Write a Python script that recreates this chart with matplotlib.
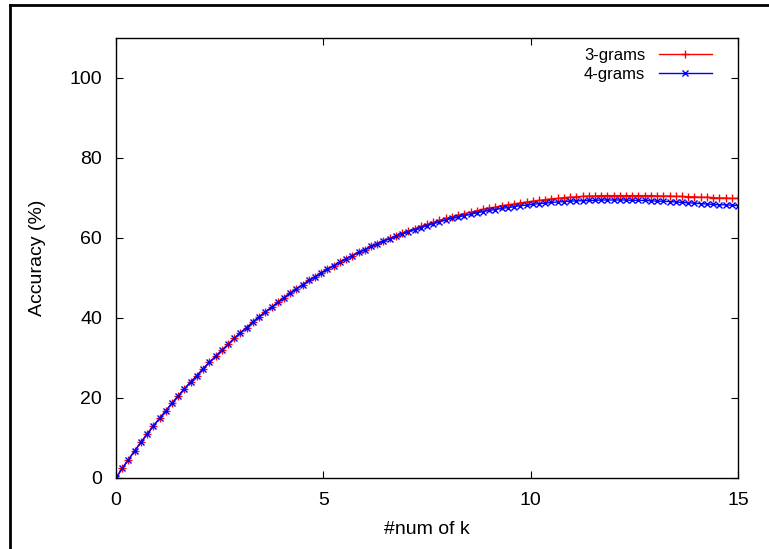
import matplotlib
matplotlib.use('Agg')
import matplotlib.pyplot as plt
import numpy as np
from matplotlib.lines import Line2D

# k values: 0 .. 15 in steps of 0.15 (101 samples)
k_values = np.arange(101) * 0.15

acc_4grams = [
    0.0, 2.4, 4.6, 6.8, 8.9, 11.0, 13.0, 14.9, 16.8, 18.7,
    20.5, 22.3, 24.0, 25.6, 27.3, 28.9, 30.4, 31.9, 33.4, 34.9,
    36.3, 37.6, 39.0, 40.3, 41.5, 42.7, 43.9, 45.1, 46.2, 47.3,
    48.3, 49.4, 50.3, 51.3, 52.2, 53.1, 54.0, 54.8, 55.6, 56.4,
    57.1, 57.9, 58.5, 59.2, 59.8, 60.4, 61.0, 61.6, 62.1, 62.6,
    63.1, 63.6, 64.0, 64.5, 64.9, 65.2, 65.6, 65.9, 66.3, 66.6,
    66.9, 67.1, 67.4, 67.6, 67.8, 68.1, 68.2, 68.4, 68.6, 68.7,
    68.9, 69.0, 69.1, 69.2, 69.3, 69.3, 69.4, 69.4, 69.5, 69.5,
    69.5, 69.5, 69.5, 69.4, 69.4, 69.4, 69.3, 69.2, 69.2, 69.1,
    69.0, 68.9, 68.8, 68.7, 68.6, 68.5, 68.4, 68.3, 68.3, 68.2,
    68.1,
]

acc_3grams = [
    0.0, 2.4, 4.6, 6.8, 8.9, 11.0, 13.0, 14.9, 16.8, 18.7,
    20.5, 22.3, 24.0, 25.6, 27.3, 28.9, 30.4, 31.9, 33.4, 34.9,
    36.3, 37.6, 39.0, 40.3, 41.5, 42.7, 43.9, 45.1, 46.2, 47.3,
    48.3, 49.4, 50.3, 51.3, 52.2, 53.1, 54.0, 54.8, 55.6, 56.4,
    57.1, 57.9, 58.6, 59.3, 59.9, 60.6, 61.2, 61.8, 62.3, 62.9,
    63.4, 63.9, 64.4, 64.9, 65.3, 65.7, 66.1, 66.4, 66.8, 67.2,
    67.5, 67.7, 68.1, 68.3, 68.5, 68.8, 69.0, 69.2, 69.4, 69.6,
    69.8, 69.9, 70.1, 70.2, 70.3, 70.4, 70.5, 70.5, 70.6, 70.6,
    70.6, 70.6, 70.6, 70.6, 70.6, 70.6, 70.6, 70.5, 70.5, 70.5,
    70.4, 70.4, 70.3, 70.3, 70.2, 70.2, 70.1, 70.0, 70.0, 69.9,
    69.9,
]

x_ticks = [0, 5, 10, 15]
y_ticks = [0, 20, 40, 60, 80, 100]

plt.rcParams['font.family'] = ['Liberation Sans', 'DejaVu Sans']

fig = plt.figure(figsize=(7.69, 5.49), dpi=100)
W, H = 769, 549
ax = fig.add_axes([116 / W, 1 - 478 / H, 622 / W, 440 / H])

ax.plot(k_values, acc_3grams, color='#ff0000', lw=1.0, marker='+',
        ms=6, mew=1.0, label='3-grams')
ax.plot(k_values, acc_4grams, color='#0000ff', lw=1.0, marker='x',
        ms=4.5, mew=1.0, label='4-grams')

ax.set_xlim(0, 15)
ax.set_ylim(0, 110)
ax.set_xticks(x_ticks)
ax.set_yticks(y_ticks)
ax.tick_params(direction='in', length=5, width=0.8, top=True, right=True,
               labelsize=14, colors='black')
ax.tick_params(axis='x', pad=10)
ax.tick_params(axis='y', pad=10)
for s in ax.spines.values():
    s.set_linewidth(1.0)

ax.set_xlabel('#num of k', fontsize=14)
ax.set_ylabel('Accuracy (%)', fontsize=14)
ax.xaxis.set_label_coords(0.5, (478 - 530) / 440)
ax.xaxis.label.set_va('center')
ax.yaxis.set_label_coords((37 - 116) / 622, 0.5)
ax.yaxis.label.set_va('center')

ax.legend(loc='upper right', bbox_to_anchor=(1 - 26 / 622, 1 - 10 / 440),
          frameon=False, markerfirst=False, numpoints=1, fontsize=12,
          handlelength=3.2, handletextpad=0.8, labelspacing=0.25,
          borderaxespad=0, borderpad=0)

# outer frame (left and top edges)
fig.add_artist(Line2D([10 / W, 10 / W], [0, 1 - 5 / H], color='black', lw=2))
fig.add_artist(Line2D([10 / W, 1], [1 - 5 / H, 1 - 5 / H], color='black', lw=2))

fig.savefig('out.png', dpi=100)
